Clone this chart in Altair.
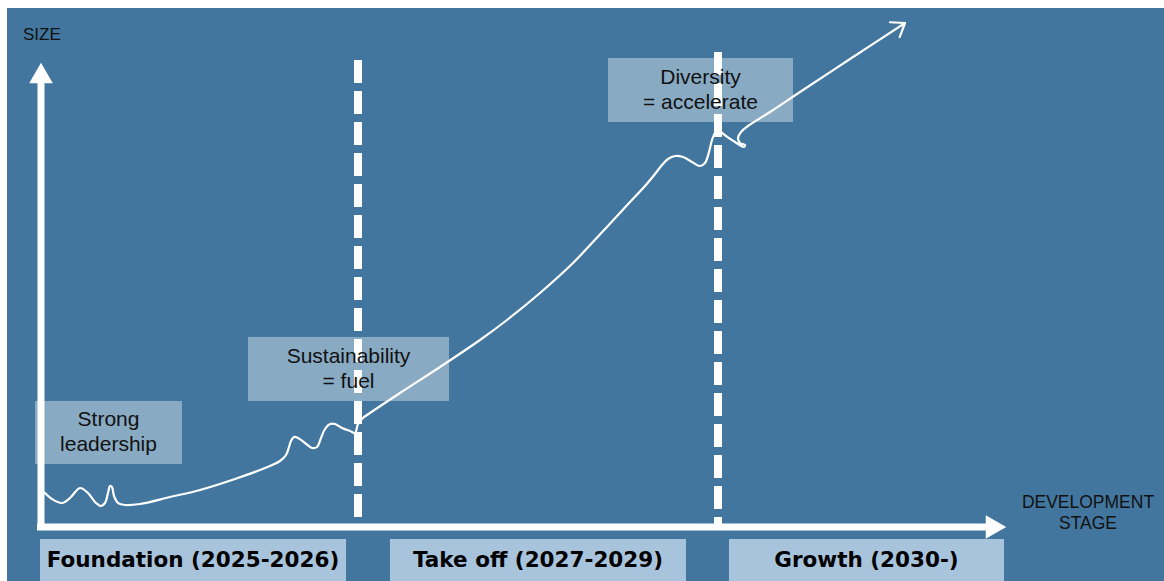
import altair as alt
import pandas as pd
import numpy as np

W, H = 1164, 581

# ---- growth curve (development stage position, size position; canvas units, y grows downward)
curve_x = [44, 52, 62, 70, 80, 88, 96, 101, 105, 108, 110, 112, 114, 118, 125, 140, 170, 200,
           235, 265, 280, 286, 289, 291, 294, 298, 305, 312, 317, 321, 325, 330, 335, 342, 350,
           355, 358, 363, 370, 400, 440, 480, 507, 540, 573, 605, 630, 645, 655, 662, 668, 675,
           683, 692, 700, 705, 709, 712, 715, 719, 726, 735, 744, 745, 740, 738, 741, 748, 770,
           800, 850, 905]
curve_y = [492, 499, 503, 498, 488, 493, 503, 506, 503, 493, 486, 487, 496, 503, 505, 504, 497, 490,
           479, 468, 461, 455, 447, 441, 437, 438, 443, 448, 447, 438, 429, 424, 424, 428, 431,
           433, 424, 418, 413, 393, 367, 340, 320, 293, 263, 229, 202, 186, 174, 165, 159, 156,
           157, 162, 166, 163, 152, 140, 133, 131, 136, 142, 147, 145, 143, 138, 132, 126, 112,
           92, 59, 23]

# ---- stage boxes under the x axis
stage_labels = ["Foundation (2025-2026)", "Take off (2027-2029)", "Growth (2030-)"]
stage_x0 = [40, 390, 729]
stage_x1 = [346, 686, 1004]
stage_top = [539, 539, 539]
stage_bottom = [581, 581, 581]
stage_text_y = [561, 561, 561]

# ---- annotation boxes
note_labels = ["Strong\nleadership", "Sustainability\n= fuel", "Diversity\n= accelerate"]
note_x0 = [35, 248, 608]
note_x1 = [182, 449, 793]
note_y0 = [401, 337, 58]
note_y1 = [464, 401, 122]
NOTE_LH = 25

# ---- stage dividers (dashed) and axes
divider_x = [358, 718]
divider_top = [60, 52]
axis_origin = (41, 527)
x_axis_end = 986
y_axis_end = 80
panel = dict(x=7, x2=W, y=8, y2=H)

# ---- axis titles (y = first line)
axis_titles = ["SIZE", "DEVELOPMENT\nSTAGE"]
axis_title_x = [23, 1088]
axis_title_y = [35, 503]

BLUE = "#42769e"
STAGE_FILL = "#a8c4dc"
WHITE = "#ffffff"

xs = alt.Scale(domain=[0, W], nice=False, zero=False)
ys = alt.Scale(domain=[0, H], nice=False, zero=False, reverse=True)
X = lambda f="x": alt.X(f"{f}:Q", scale=xs, axis=None)
Y = lambda f="y": alt.Y(f"{f}:Q", scale=ys, axis=None)

panel_df = pd.DataFrame([panel])
panel_layer = alt.Chart(panel_df).mark_rect(color=BLUE).encode(
    x=X(), x2="x2:Q", y=Y(), y2="y2:Q")

stage_df = pd.DataFrame({"label": stage_labels, "x": stage_x0, "x2": stage_x1,
                         "y": stage_top, "y2": stage_bottom, "ty": stage_text_y})
stage_df["cx"] = (stage_df["x"] + stage_df["x2"]) / 2
stage_rect = alt.Chart(stage_df).mark_rect(color=STAGE_FILL).encode(
    x=X(), x2="x2:Q", y=Y(), y2="y2:Q")
stage_text = alt.Chart(stage_df).mark_text(
    font="DejaVu Sans", fontWeight="bold", fontSize=21.5, color="#000000",
    align="center", baseline="middle").encode(x=X("cx"), y=Y("ty"), text="label:N")

div_df = pd.DataFrame({"x": divider_x, "y": divider_top, "y2": [axis_origin[1]] * 2})
dividers = alt.Chart(div_df).mark_rule(color=WHITE, strokeWidth=8, strokeDash=[23, 8],
                                       strokeCap="butt").encode(x=X(), y=Y(), y2="y2:Q")

note_df = pd.DataFrame({"label": note_labels, "x": note_x0, "x2": note_x1,
                        "y": note_y0, "y2": note_y1})
note_df["cx"] = (note_df["x"] + note_df["x2"]) / 2
nlines = note_df["label"].str.count("\n")
note_df["ty"] = (note_df["y"] + note_df["y2"]) / 2 - nlines * NOTE_LH / 2
note_rect = alt.Chart(note_df).mark_rect(color=WHITE, opacity=0.38).encode(
    x=X(), x2="x2:Q", y=Y(), y2="y2:Q")
note_text = alt.Chart(note_df).mark_text(
    font="Liberation Sans", fontSize=21, color="#111111", align="center",
    baseline="middle", lineBreak="\n", lineHeight=NOTE_LH).encode(
    x=X("cx"), y=Y("ty"), text="label:N")

axes_df = pd.DataFrame({
    "x": [axis_origin[0] - 4, axis_origin[0]],
    "x2": [x_axis_end, axis_origin[0]],
    "y": [axis_origin[1], axis_origin[1] + 3],
    "y2": [axis_origin[1], y_axis_end]})
axes = alt.Chart(axes_df).mark_rule(color=WHITE, strokeWidth=7).encode(
    x=X(), x2="x2:Q", y=Y(), y2="y2:Q")

heads_df = pd.DataFrame({"x": [axis_origin[0], 996], "y": [73, axis_origin[1]],
                         "shape": ["triangle-up", "triangle-right"]})
heads = alt.Chart(heads_df).mark_point(filled=True, color=WHITE, opacity=1, size=560).encode(
    x=X(), y=Y(), shape=alt.Shape("shape:N", scale=None, legend=None))

curve_df = pd.DataFrame({"x": curve_x, "y": curve_y, "i": range(len(curve_x))})
curve = alt.Chart(curve_df).mark_line(color=WHITE, strokeWidth=2.2,
                                      interpolate="catmull-rom").encode(
    x=X(), y=Y(), order="i:O")

# open arrowhead at curve end, oriented along last segment
tip = np.array([curve_x[-1], curve_y[-1]], float)
prev = np.array([curve_x[-2], curve_y[-2]], float)
back = (prev - tip) / np.linalg.norm(prev - tip)
arms = []
for a in (np.radians(36), np.radians(-36)):
    rot = np.array([[np.cos(a), -np.sin(a)], [np.sin(a), np.cos(a)]])
    end = tip + rot @ back * 15
    arms.append({"x": tip[0], "y": tip[1], "x2": end[0], "y2": end[1]})
arms_df = pd.DataFrame(arms)
arrow = alt.Chart(arms_df).mark_rule(color=WHITE, strokeWidth=2.2, strokeCap="round").encode(
    x=X(), x2="x2:Q", y=Y(), y2="y2:Q")

title_df = pd.DataFrame({"label": axis_titles, "x": axis_title_x, "y": axis_title_y})
size_title = alt.Chart(title_df.iloc[[0]]).mark_text(
    font="Liberation Sans", fontSize=17, color="#111111", align="left",
    baseline="middle").encode(x=X(), y=Y(), text="label:N")
dev_title = alt.Chart(title_df.iloc[[1]]).mark_text(
    font="Liberation Sans", fontSize=17.5, color="#111111", align="center",
    baseline="middle", lineBreak="\n", lineHeight=21).encode(x=X(), y=Y(), text="label:N")

chart = alt.layer(
    panel_layer, stage_rect, dividers, note_rect, axes, heads, curve, arrow,
    stage_text, note_text, size_title, dev_title
).properties(
    width=W, height=H, padding=0, background="white",
    autosize=alt.AutoSizeParams(type="none")
).configure_view(stroke=None)

chart.save("out.html", embed_options={"renderer": "svg", "actions": False})
